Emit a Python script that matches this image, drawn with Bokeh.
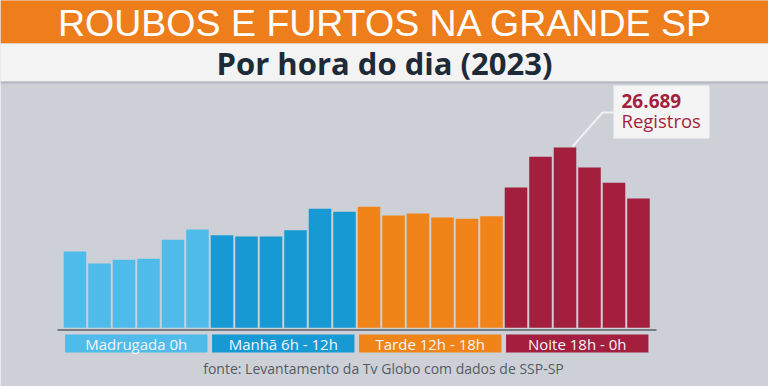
from bokeh.plotting import figure
from bokeh.models import Range1d, BoxAnnotation, Label
from bokeh.embed import file_html
from bokeh.resources import INLINE

# ---------------- data ----------------
hours = list(range(24))
registros = [11300, 9520, 10070, 10220, 13030, 14550,
             13710, 13520, 13520, 14450, 17620, 17170,
             17910, 16620, 16920, 16330, 16140, 16520,
             20770, 25310, 26689, 23730, 21470, 19140]
periodos = ["Madrugada 0h", "Manhã 6h - 12h", "Tarde 12h - 18h", "Noite 18h - 0h"]
periodo_cores = ["#4fbbea", "#1799d4", "#f08418", "#a41f3d"]
titulo = "ROUBOS E FURTOS NA GRANDE SP"
subtitulo = "Por hora do dia (2023)"
fonte = "fonte: Levantamento da Tv Globo com dados de SSP-SP"
pico_label = "26.689"
pico_unidade = "Registros"

# ---------------- geometry (pixels of the 768x386 reference) ----------------
W, H, OFF = 768, 386, 0
PX_X = 24.5            # pixels per bar slot
BAR0_X = 74.5          # centre of first bar in reference px
BASE_Y = 327.3         # baseline in reference px
VAL_PX = 148.0         # value per pixel

x_start = -(BAR0_X - OFF) / PX_X
x_end = x_start + W / PX_X
y_start = -(H - (BASE_Y - OFF)) * VAL_PX
y_end = y_start + H * VAL_PX

def X(xr):
    return x_start + (xr - OFF) / PX_X

def Y(yr):
    return y_start + (H - (yr - OFF)) * VAL_PX

p = figure(width=W, height=H, output_backend="svg", toolbar_location=None,
           x_range=Range1d(x_start, x_end), y_range=Range1d(y_start, y_end),
           x_axis_type=None, y_axis_type=None, min_border=0)
p.grid.visible = False
p.outline_line_color = None
p.background_fill_color = "#cdd1d7"
p.border_fill_color = "#cdd1d7"

# header bands
p.add_layout(BoxAnnotation(top=y_end + 10000, bottom=Y(43), fill_color="#ee7d1b",
                           fill_alpha=1, line_color=None))
p.add_layout(BoxAnnotation(top=Y(43), bottom=Y(81), fill_color="#f3f3f3",
                           fill_alpha=1, line_color=None))
p.add_layout(BoxAnnotation(top=Y(81), bottom=Y(83), fill_color="#b4b8be",
                           fill_alpha=1, line_color=None))

p.add_layout(Label(x=X(385), y=Y(22), text=titulo, text_align="center",
                   text_baseline="middle", text_color="white",
                   text_font="Liberation Sans", text_font_size="37.5px"))
p.add_layout(Label(x=X(384), y=Y(62), text=subtitulo, text_align="center",
                   text_baseline="middle", text_color="#1f2a38",
                   text_font="Open Sans", text_font_style="bold",
                   text_font_size="31px"))

# bars
bar_colors = [periodo_cores[h // 6] for h in hours]
p.vbar(x=hours, top=registros, bottom=0, width=0.92, fill_color=bar_colors,
       line_color=None)

# axis line
p.line(x=[X(57), X(656)], y=[Y(329.5), Y(329.5)], line_color="#5a5f66", line_width=1.5)

# period boxes
centers = [i * 6 + 2.5 for i in range(4)]
p.rect(x=centers, y=[(Y(334) + Y(352)) / 2] * 4, width=5.81, height=Y(334) - Y(352),
       fill_color=periodo_cores, line_color=None)
p.text(x=centers, y=[(Y(334) + Y(352)) / 2] * 4, text=periodos, text_align="center",
       text_baseline="middle", text_color="#f4f6f8", text_font_size="15px",
       text_font={"value": "Open Sans"})

# peak annotation
p.line(x=[X(572), X(602), X(613)], y=[Y(146), Y(112), Y(112)],
       line_color="#eef0f2", line_width=2)
p.add_layout(BoxAnnotation(left=X(613), right=X(709), top=Y(85), bottom=Y(138),
                           fill_color="#f4f4f4", fill_alpha=1, line_color=None))
p.add_layout(Label(x=X(621), y=Y(100.5), text=pico_label, text_align="left",
                   text_baseline="middle", text_color="#a41f3d",
                   text_font="Open Sans", text_font_style="bold", text_font_size="19px"))
p.add_layout(Label(x=X(621), y=Y(120), text=pico_unidade, text_align="left",
                   text_baseline="middle", text_color="#a41f3d",
                   text_font="Open Sans", text_font_size="18.5px"))

# source
p.add_layout(Label(x=X(383), y=Y(368), text=fonte, text_align="center",
                   text_baseline="middle", text_color="#555b63",
                   text_font="Open Sans", text_font_size="14px"))

open("out.html", "w").write(file_html(p, INLINE))
